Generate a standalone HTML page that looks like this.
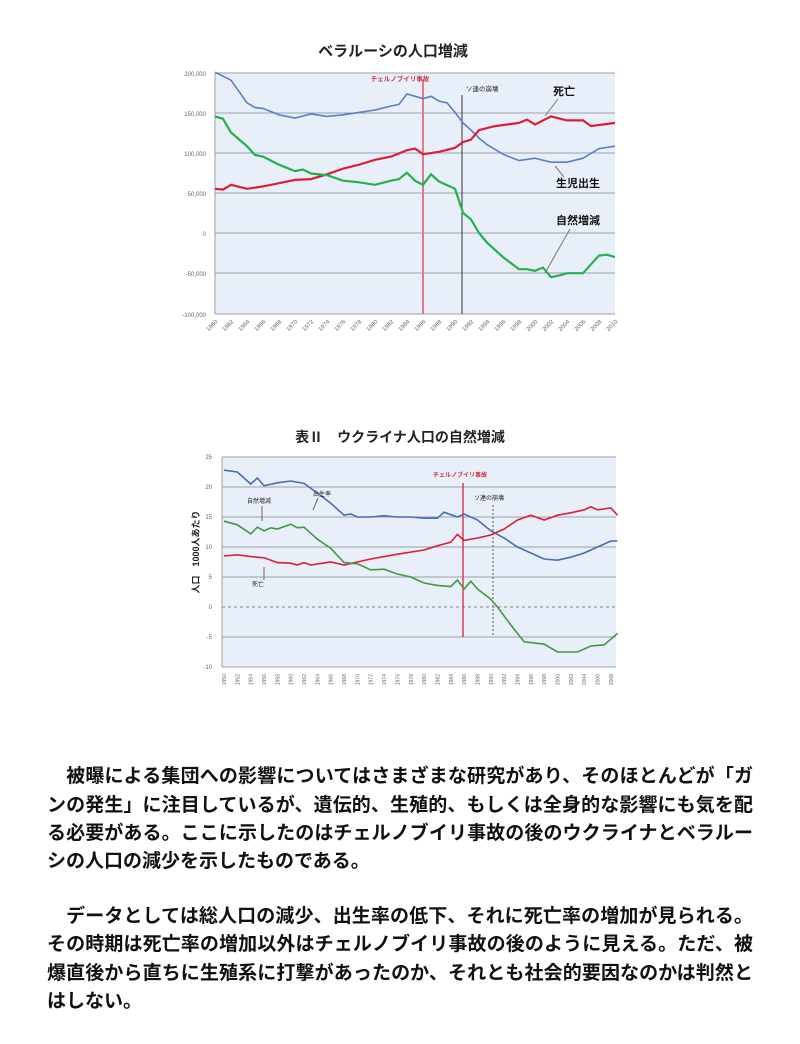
<!DOCTYPE html>
<html><head><meta charset="utf-8">
<style>
body{margin:0;background:#fff;width:800px;height:1044px;position:relative;overflow:hidden;font-family:"Liberation Sans","Noto Sans CJK JP",sans-serif}
svg{position:absolute;left:0;top:0}
.t{position:absolute;left:47px;width:706px;font-size:19px;font-weight:bold;color:#111;text-align:justify;text-align-last:justify;white-space:nowrap;line-height:20px}
.l{text-align-last:left}
</style></head><body>
<svg width="800" height="760" viewBox="0 0 800 760" font-family="Liberation Sans, Noto Sans CJK JP, sans-serif">
<!-- Belarus -->
<text x="393" y="56" font-size="15" font-weight="bold" text-anchor="middle" fill="#222">ベラルーシの人口増減</text>
<rect x="215" y="73" width="400" height="241" fill="#e9eff8"/>
<g stroke="#9aa0a8" stroke-width="1">
<line x1="215" y1="73" x2="615" y2="73"/><line x1="215" y1="113" x2="615" y2="113"/><line x1="215" y1="153" x2="615" y2="153"/><line x1="215" y1="193" x2="615" y2="193"/><line x1="215" y1="233" x2="615" y2="233"/><line x1="215" y1="273" x2="615" y2="273"/><line x1="215" y1="314" x2="615" y2="314"/>
<line x1="215" y1="73" x2="215" y2="314"/>
</g>
<g font-size="6" fill="#666" text-anchor="end">
<text x="206" y="76">200,000</text><text x="206" y="116">150,000</text><text x="206" y="156">100,000</text><text x="206" y="196">50,000</text><text x="206" y="236">0</text><text x="206" y="276">-50,000</text><text x="206" y="317">-100,000</text>
</g>
<g id="bx" font-size="6" fill="#666" text-anchor="end"></g>
<line x1="423" y1="80" x2="423" y2="314" stroke="#e07a8a" stroke-width="2"/>
<line x1="462" y1="95" x2="462" y2="314" stroke="#333" stroke-width="1"/>
<text x="400" y="81" font-size="6.5" fill="#d03040" text-anchor="middle" font-weight="bold">チェルノブイリ事故</text>
<text x="466" y="91" font-size="6.5" fill="#222">ソ連の崩壊</text>
<polyline id="b1" fill="none" stroke="#5b7fbf" stroke-width="1.6"/>
<polyline id="b2" fill="none" stroke="#d8203a" stroke-width="2.2"/>
<polyline id="b3" fill="none" stroke="#22b24c" stroke-width="2.2"/>
<text x="553" y="95" font-size="11" font-weight="bold" fill="#111">死亡</text>
<line x1="558" y1="99" x2="545" y2="116" stroke="#777"/>
<text x="556" y="187" font-size="11" font-weight="bold" fill="#111">生児出生</text>
<line x1="564" y1="177" x2="555" y2="166" stroke="#777"/>
<text x="556" y="224" font-size="11" font-weight="bold" fill="#111">自然増減</text>
<line x1="570" y1="229" x2="545" y2="273" stroke="#777"/>
<!-- Ukraine -->
<text x="400" y="442" font-size="14" font-weight="bold" text-anchor="middle" fill="#222">表Ⅱ　ウクライナ人口の自然増減</text>
<rect x="222" y="457" width="394" height="210" fill="#e9eff8"/>
<g stroke="#9aa0a8" stroke-width="1">
<line x1="222" y1="457" x2="616" y2="457"/><line x1="222" y1="487" x2="616" y2="487"/><line x1="222" y1="517" x2="616" y2="517"/><line x1="222" y1="547" x2="616" y2="547"/><line x1="222" y1="577" x2="616" y2="577"/><line x1="222" y1="637" x2="616" y2="637"/><line x1="222" y1="667" x2="616" y2="667"/>
<line x1="222" y1="457" x2="222" y2="667"/>
</g>
<line x1="222" y1="607" x2="616" y2="607" stroke="#888" stroke-dasharray="3,3"/>
<g font-size="6" fill="#666" text-anchor="end">
<text x="212" y="459">25</text><text x="212" y="489">20</text><text x="212" y="519">15</text><text x="212" y="549">10</text><text x="212" y="579">5</text><text x="212" y="609">0</text><text x="212" y="639">-5</text><text x="212" y="669">-10</text>
</g>
<text transform="translate(199,552) rotate(-90)" font-size="9" font-weight="bold" text-anchor="middle" fill="#222">人口　1000人あたり</text>
<g id="ux" font-size="5" fill="#666" text-anchor="end"></g>
<line x1="463" y1="483" x2="463" y2="637" stroke="#d8203a" stroke-width="1.3"/>
<line x1="493" y1="505" x2="493" y2="637" stroke="#555" stroke-dasharray="2,2"/>
<text x="460" y="477" font-size="6" fill="#d03040" text-anchor="middle" font-weight="bold">チェルノブイリ事故</text>
<text x="474" y="500" font-size="6" fill="#222">ソ連の崩壊</text>
<polyline id="u1" fill="none" stroke="#4a6cb0" stroke-width="1.6"/>
<polyline id="u2" fill="none" stroke="#d8203a" stroke-width="1.6"/>
<polyline id="u3" fill="none" stroke="#3f9a3f" stroke-width="1.6"/>
<text x="313" y="496" font-size="6" fill="#222">出生率</text>
<line x1="318" y1="498" x2="313" y2="510" stroke="#666"/>
<text x="247" y="503" font-size="6" fill="#222">自然増減</text>
<line x1="262" y1="506" x2="262" y2="521" stroke="#666"/>
<text x="252" y="586" font-size="6" fill="#222">死亡</text>
<line x1="264" y1="567" x2="264" y2="580" stroke="#666"/>
</svg>
<div class="t" style="top:767px">　被曝による集団への影響についてはさまざまな研究があり、そのほとんどが「ガ</div>
<div class="t" style="top:796px">ンの発生」に注目しているが、遺伝的、生殖的、もしくは全身的な影響にも気を配</div>
<div class="t" style="top:824px">る必要がある。ここに示したのはチェルノブイリ事故の後のウクライナとベラルー</div>
<div class="t l" style="top:852px">シの人口の減少を示したものである。</div>
<div class="t" style="top:907px">　データとしては総人口の減少、出生率の低下、それに死亡率の増加が見られる。</div>
<div class="t" style="top:935px">その時期は死亡率の増加以外はチェルノブイリ事故の後のように見える。ただ、被</div>
<div class="t" style="top:964px">爆直後から直ちに生殖系に打撃があったのか、それとも社会的要因なのかは判然と</div>
<div class="t l" style="top:992px">はしない。</div>
<script>
function P(id,d,fx,fy){document.getElementById(id).setAttribute('points',d.map(function(p){return fx(p[0]).toFixed(1)+','+fy(p[1]).toFixed(1)}).join(' '))}
var bx=function(y){return 215+(y-1960)*8},by=function(v){return 233-0.804*v};
P('b1',[[1960,200],[1962,190],[1964,162],[1965,156],[1966,155],[1968,147],[1970,143],[1972,148],[1974,145],[1976,147],[1978,150],[1980,153],[1982,158],[1983,160],[1984,173],[1985,170],[1986,167],[1987,170],[1988,164],[1989,162],[1990,150],[1991,137],[1992,128],[1993,118],[1994,110],[1996,98],[1998,90],[2000,93],[2002,88],[2004,88],[2006,93],[2008,105],[2010,108]],bx,by);
P('b2',[[1960,55],[1961,54],[1962,60],[1964,55],[1966,58],[1968,62],[1970,66],[1972,67],[1974,73],[1976,80],[1978,85],[1980,91],[1982,95],[1984,103],[1985,105],[1986,98],[1988,101],[1990,106],[1991,113],[1992,116],[1993,128],[1995,133],[1998,137],[1999,141],[2000,135],[2002,145],[2004,140],[2006,140],[2007,133],[2010,137]],bx,by);
P('b3',[[1960,145],[1961,142],[1962,125],[1964,108],[1965,97],[1966,95],[1968,85],[1970,77],[1971,79],[1972,74],[1974,72],[1976,65],[1978,63],[1980,60],[1982,65],[1983,67],[1984,75],[1985,65],[1986,60],[1987,73],[1988,64],[1990,55],[1991,25],[1992,17],[1993,0],[1994,-12],[1996,-30],[1998,-45],[1999,-45],[2000,-47],[2001,-43],[2002,-55],[2003,-53],[2004,-50],[2006,-50],[2008,-28],[2009,-27],[2010,-30]],bx,by);
var ux=function(y){return 224+(y-1950)*6.67},uy=function(v){return 607-6*v};
P('u1',[[1950,22.8],[1952,22.5],[1954,20.5],[1955,21.5],[1956,20.2],[1958,20.7],[1960,21],[1962,20.6],[1964,19],[1966,17.3],[1968,15.3],[1969,15.5],[1970,15],[1972,15],[1974,15.2],[1976,15],[1978,15],[1980,14.8],[1982,14.8],[1983,15.8],[1985,15],[1986,15.5],[1988,14.5],[1990,12.7],[1992,11.5],[1994,10],[1996,9],[1998,8],[2000,7.8],[2002,8.3],[2004,9],[2006,10],[2008,11],[2009,11]],ux,uy);
P('u2',[[1950,8.5],[1952,8.7],[1954,8.4],[1956,8.2],[1958,7.4],[1960,7.3],[1961,7],[1962,7.4],[1963,7],[1966,7.5],[1968,7],[1970,7.5],[1972,8],[1976,8.8],[1980,9.5],[1982,10.2],[1984,10.8],[1985,12.1],[1986,11.1],[1988,11.5],[1990,12],[1992,13],[1994,14.5],[1996,15.3],[1998,14.5],[2000,15.3],[2002,15.7],[2004,16.2],[2005,16.7],[2006,16.2],[2008,16.5],[2009,15.3]],ux,uy);
P('u3',[[1950,14.3],[1952,13.7],[1954,12.2],[1955,13.3],[1956,12.7],[1957,13.2],[1958,13],[1960,13.8],[1961,13.2],[1962,13.3],[1964,11.3],[1966,9.8],[1968,7.4],[1970,7.2],[1972,6.2],[1974,6.3],[1976,5.5],[1978,5],[1980,4],[1982,3.6],[1984,3.4],[1985,4.5],[1986,3],[1987,4.3],[1988,3],[1990,1.3],[1991,0],[1993,-3],[1995,-5.8],[1998,-6.2],[2000,-7.5],[2003,-7.5],[2005,-6.5],[2007,-6.3],[2009,-4.4]],ux,uy);
var g=document.getElementById('bx'),s='';
for(var y=1960;y<=2010;y+=2){var x=bx(y)+3;s+='<text transform="translate('+x+',322) rotate(-45)">'+y+'</text>';}
g.innerHTML=s;
g=document.getElementById('ux');s='';
for(var y=1950;y<=2008;y+=2){var x=ux(y)+2;s+='<text transform="translate('+x+',674) rotate(-90)">'+y+'</text>';}
g.innerHTML=s;
</script>
</body></html>
